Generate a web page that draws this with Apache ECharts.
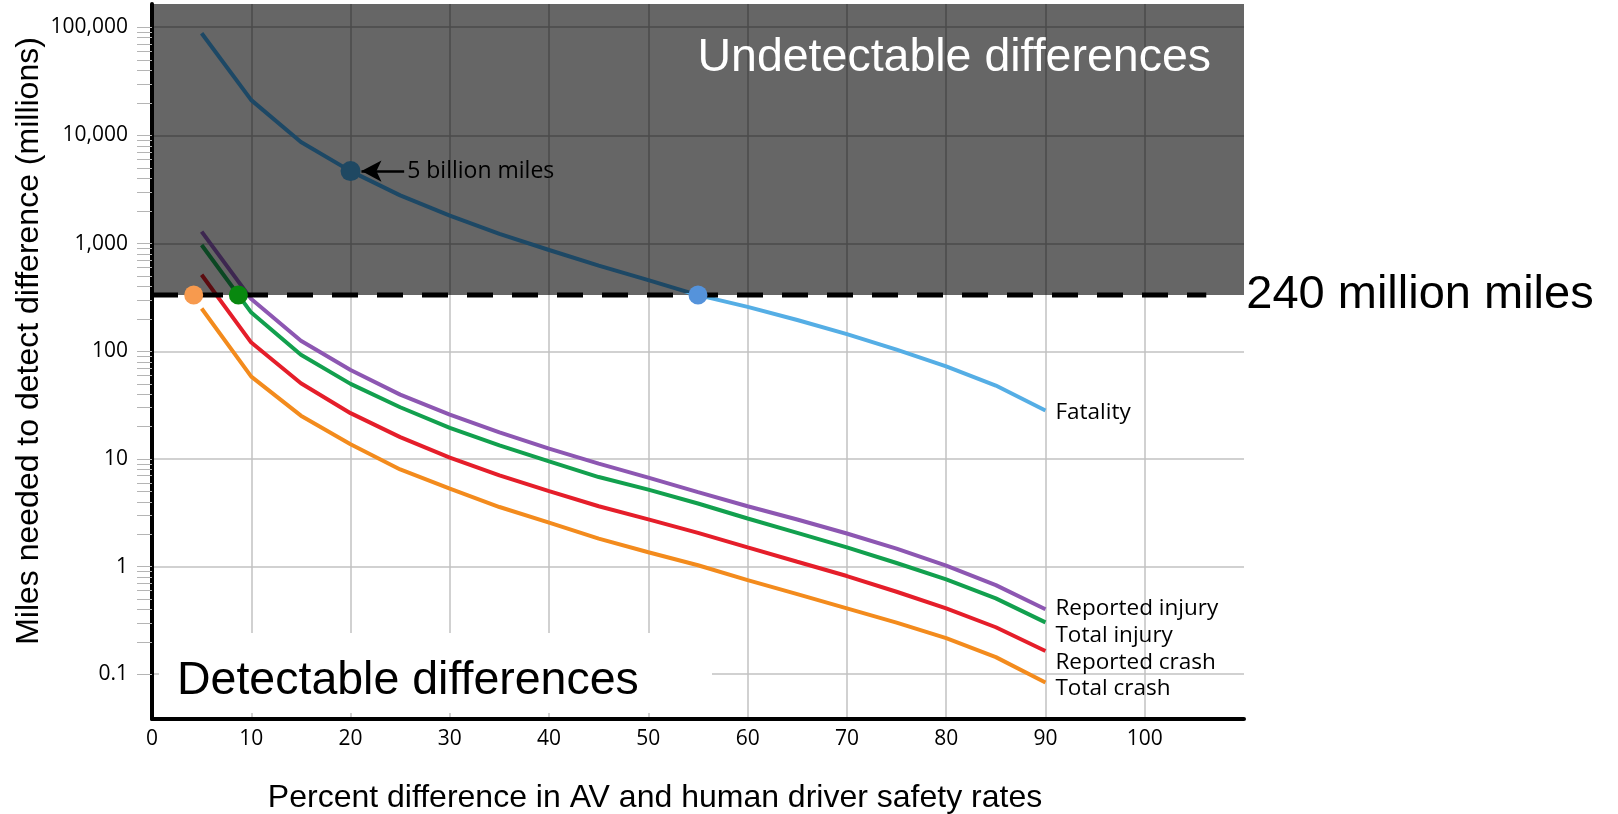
<!DOCTYPE html>
<html>
<head>
<meta charset="utf-8">
<style>
  html, body { margin: 0; padding: 0; background: #fff; }
  #main { width: 1618px; height: 814px; }
</style>
<script src="https://cdn.jsdelivr.net/npm/echarts@6/dist/echarts.min.js"></script>
</head>
<body>
<div id="main"></div>
<script>
// percent difference in AV and human driver safety rates
const pctDiff = [5, 10, 15, 20, 25, 30, 35, 40, 45, 50, 55, 60, 65, 70, 75, 80, 85, 90];
// miles needed to detect difference (millions)
const fatality       = [88000, 21200, 8700, 4680, 2790, 1815, 1230, 873, 626, 460, 334, 260, 196, 145, 104, 72.8, 48.2, 28.3];
const reportedInjury = [1290, 307, 126, 67.3, 39.7, 25.9, 17.7, 12.5, 9.06, 6.71, 4.93, 3.64, 2.74, 2.03, 1.47, 1.02, 0.673, 0.401];
const totalInjury    = [972, 230, 93.3, 50, 30.3, 19.5, 13.4, 9.5, 6.8, 5.2, 3.86, 2.8, 2.06, 1.51, 1.08, 0.76, 0.507, 0.303];
const reportedCrash  = [515, 121, 50.6, 26.7, 16.0, 10.3, 7.05, 5.04, 3.64, 2.75, 2.06, 1.51, 1.11, 0.817, 0.584, 0.409, 0.273, 0.164];
const totalCrash     = [251, 58.3, 25.3, 13.7, 8.0, 5.31, 3.58, 2.56, 1.82, 1.36, 1.03, 0.748, 0.555, 0.409, 0.301, 0.216, 0.144, 0.0836];

// detection limit (dashed line) and where curves cross it
const detectLimit = 335;
const limitSpan = [0, 106.2];
const crossPcts = [4.2, 8.7, 55];
const crossColors = ['#f79a4e', '#08880f', '#5593db'];
const fiveBillion = [20, 4680];

// axes
const xRange = [0, 110];
const yTopRange = [335, 164000];
const yBottomRange = [0.0383, 335];
const yTickLabels = ['0.1', '1', '10', '100', '1,000', '10,000', '100,000']; // 10^-1 .. 10^5
const minorMult = [1, 2, 3, 4, 5, 6, 7, 8, 9];
const minorDecades = [0.1, 1, 10, 100, 1000, 10000, 100000];

let minorTicks = [];
minorDecades.forEach(d => minorMult.forEach(m => minorTicks.push(+(d * m).toPrecision(3))));

const curves = [
  { name: 'Fatality',        data: fatality,       light: '#55aee5', dark: '#1d4865', dy: 2 },
  { name: 'Reported injury', data: reportedInjury, light: '#8d57b2', dark: '#3d2750', dy: -1 },
  { name: 'Total injury',    data: totalInjury,    light: '#12a04e', dark: '#0b4723', dy: 13 },
  { name: 'Reported crash',  data: reportedCrash,  light: '#e51e2a', dark: '#5c0c10', dy: 12 },
  { name: 'Total crash',     data: totalCrash,     light: '#f38b1d', dark: '#f38b1d', dy: 6 }
];

const FONT = 'Open Sans';
const gridLeft = 152;
const gridRight = 1618 - 1244;

function yLabel(v) {
  const e = Math.log10(v);
  if (Math.abs(e - Math.round(e)) > 1e-6) return '';
  return yTickLabels[Math.round(e) + 1] || '';
}

function mainY(gridIndex, range) {
  return {
    type: 'log', gridIndex: gridIndex, position: 'left',
    min: range[0], max: range[1],
    axisLine: { show: true, lineStyle: { color: '#000', width: 4 } },
    axisTick: {
      show: true, length: 15, inside: false,
      customValues: minorTicks.filter(v => v >= range[0] && v <= range[1]),
      lineStyle: { color: '#b4b4b4', width: 1 }
    },
    axisLabel: { show: true, formatter: yLabel, color: '#000', fontFamily: FONT, fontSize: 21, margin: 24 },
    splitLine: { show: false }
  };
}

function gridY(gridIndex, range, color) {
  return {
    type: 'log', gridIndex: gridIndex, position: 'right',
    min: range[0], max: range[1],
    axisLine: { show: false }, axisTick: { show: false }, axisLabel: { show: false },
    splitLine: { show: true, showMinLine: false, showMaxLine: false, lineStyle: { color: color, width: 1.5 } }
  };
}

let series = [];
curves.forEach(c => {
  const pts = pctDiff.map((x, i) => [x, c.data[i]]);
  series.push({
    name: c.name + ' (undetectable)', type: 'line', xAxisIndex: 0, yAxisIndex: 0,
    data: pts, symbol: 'none', clip: true, z: 3,
    lineStyle: { color: c.dark, width: 4 }
  });
  series.push({
    name: c.name, type: 'line', xAxisIndex: 1, yAxisIndex: 2,
    data: pts, symbol: 'none', clip: true, z: 3,
    lineStyle: { color: c.light, width: 4 },
    endLabel: {
      show: true, formatter: c.name, color: '#000', fontFamily: FONT, fontSize: 22.5,
      distance: 10, offset: [0, c.dy]
    }
  });
});

// dashed detection limit
series.push({
  name: 'limit', type: 'line', xAxisIndex: 1, yAxisIndex: 2,
  data: limitSpan.map(x => [x, detectLimit]), symbol: 'none', clip: false, z: 5,
  lineStyle: { color: '#000', width: 5, type: [26, 19] },
  endLabel: {
    show: true, formatter: '240 million miles', color: '#000',
    fontFamily: 'Liberation Sans', fontSize: 47, distance: 40
  }
});

// crossing dots
series.push({
  name: 'crossings', type: 'scatter', xAxisIndex: 1, yAxisIndex: 2, clip: false, z: 6,
  symbolSize: 19,
  data: crossPcts.map((x, i) => ({ value: [x, detectLimit], itemStyle: { color: crossColors[i], opacity: 1 } }))
});

// 5 billion miles marker
series.push({
  name: '5 billion', type: 'scatter', xAxisIndex: 0, yAxisIndex: 0, clip: false, z: 6,
  symbolSize: 20, itemStyle: { color: '#1f4862', opacity: 1 },
  data: [fiveBillion],
  markLine: {
    silent: true, symbol: ['arrow', 'none'], symbolSize: [16, 20],
    lineStyle: { color: '#000', width: 2.5, type: 'solid' },
    label: {
      show: true, position: 'end', formatter: '5 billion miles', color: '#000',
      fontFamily: FONT, fontSize: 23, distance: 3
    },
    data: [[{ coord: [21.1, fiveBillion[1]] }, { coord: [25.4, fiveBillion[1]] }]]
  }
});

const option = {
  animation: false,
  textStyle: { fontFamily: FONT },
  grid: [
    { left: gridLeft, right: gridRight, top: 4, height: 291, show: true, backgroundColor: '#666666', borderWidth: 0 },
    { left: gridLeft, right: gridRight, top: 295, bottom: 95, show: false }
  ],
  xAxis: [
    {
      type: 'value', gridIndex: 0, min: xRange[0], max: xRange[1], interval: 10,
      axisLine: { show: false }, axisTick: { show: false }, axisLabel: { show: false },
      splitLine: { show: true, showMinLine: false, showMaxLine: false, lineStyle: { color: '#4b4b4b', width: 1.5 } }
    },
    {
      type: 'value', gridIndex: 1, min: xRange[0], max: xRange[1], interval: 10,
      axisLine: { show: true, lineStyle: { color: '#000', width: 4 } },
      axisTick: { show: false },
      axisLabel: {
        show: true, color: '#000', fontFamily: FONT, fontSize: 21, margin: 10,
        formatter: v => (v <= 100 ? String(v) : '')
      },
      splitLine: { show: true, showMinLine: false, showMaxLine: false, lineStyle: { color: '#c2c2c2', width: 1.5 } }
    }
  ],
  yAxis: [
    mainY(0, yTopRange),
    gridY(0, yTopRange, '#4b4b4b'),
    mainY(1, yBottomRange),
    gridY(1, yBottomRange, '#c2c2c2')
  ],
  series: series,
  graphic: [
    { type: 'rect', z: 1, shape: { x: 159, y: 633, width: 553, height: 80 }, style: { fill: '#fff' } },
    {
      type: 'text', z: 2, x: 177, y: 681,
      style: { text: 'Detectable differences', fill: '#000', font: '46.5px "Liberation Sans"', textAlign: 'left', textVerticalAlign: 'middle' }
    },
    {
      type: 'text', z: 2, x: 1211, y: 58,
      style: { text: 'Undetectable differences', fill: '#fff', font: '46.5px "Liberation Sans"', textAlign: 'right', textVerticalAlign: 'middle' }
    },
    {
      type: 'text', z: 2, x: 655, y: 798,
      style: { text: 'Percent difference in AV and human driver safety rates', fill: '#000', font: '32px "Liberation Sans"', textAlign: 'center', textVerticalAlign: 'middle' }
    },
    {
      type: 'text', z: 2, x: 29, y: 341, rotation: Math.PI / 2,
      style: { text: 'Miles needed to detect difference (millions)', fill: '#000', font: '32px "Liberation Sans"', textAlign: 'center', textVerticalAlign: 'middle' }
    }
  ]
};

const chart = echarts.init(document.getElementById('main'));
chart.setOption(option);
</script>
</body>
</html>
